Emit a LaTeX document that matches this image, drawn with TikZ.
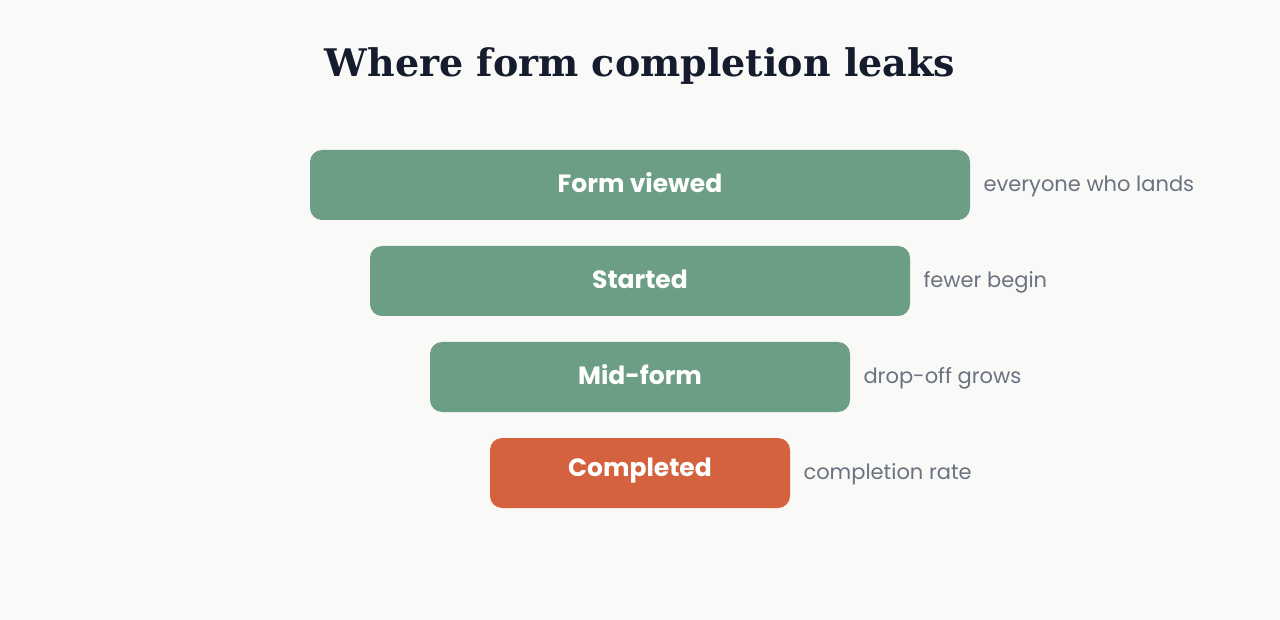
\documentclass[tikz,border=0pt]{standalone}
\usepackage{fontspec}
\setmainfont{Poppins}
\newfontfamily\titlefont{DejaVu Serif}
\definecolor{bg}{HTML}{F9F9F7}
\definecolor{grn}{HTML}{6B9E85}
\definecolor{org}{HTML}{D4623F}
\definecolor{ttl}{HTML}{141C2E}
\definecolor{gry}{HTML}{6B7280}
\begin{document}
\begin{tikzpicture}[x=1pt,y=-1pt,
  stage/.style={rounded corners=12pt,inner sep=0pt},
  stlabel/.style={text=white,font=\fontsize{25}{30}\selectfont\bfseries},
  side/.style={text=gry,anchor=west,font=\fontsize{21}{25}\selectfont}]
\fill[bg] (0,0) rectangle (1280,620);
\useasboundingbox (0,0) rectangle (1280,620);
\node[text=ttl,font=\titlefont\fontsize{38}{44}\selectfont\bfseries] (title) at (640,66) {Where form completion leaks};
\fill[grn,stage] (310,150) rectangle (970,220);
\node[stlabel] (s1) at (640,183) {Form viewed};
\node[side] (l1) at (980,186) {everyone who lands};
\fill[grn,stage] (370,246) rectangle (910,316);
\node[stlabel] (s2) at (640,279) {Started};
\node[side] (l2) at (920,282) {fewer begin};
\fill[grn,stage] (430,342) rectangle (850,412);
\node[stlabel] (s3) at (640,375) {Mid-form};
\node[side] (l3) at (860,378) {drop-off grows};
\fill[org,stage] (490,438) rectangle (790,508);
\node[stlabel] (s4) at (640,471) {Completed};
\node[side] (l4) at (800,474) {completion rate};
\end{tikzpicture}
\end{document}
